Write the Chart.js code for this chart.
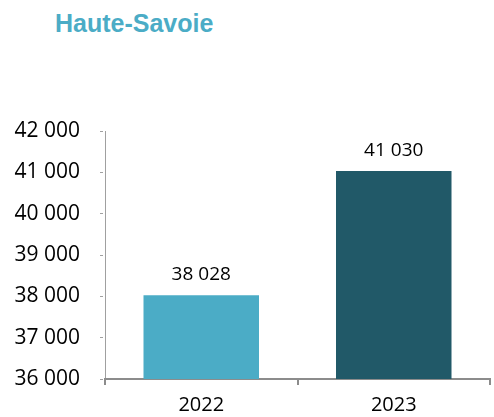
<!DOCTYPE html>
<html>
<head>
<meta charset="utf-8">
<script src="https://cdn.jsdelivr.net/npm/chart.js@4"></script>
<style>
html,body{margin:0;padding:0;background:#fff;}
#wrap{position:relative;width:494px;height:417px;}
#title{position:absolute;left:55px;top:11px;font-family:"Liberation Sans",Arial,sans-serif;font-weight:bold;font-size:25px;line-height:25px;color:#4BACC6;white-space:nowrap;}
canvas{position:absolute;left:0;top:0;}
</style>
</head>
<body>
<div id="wrap">
<div id="title">Haute-Savoie</div>
<canvas id="c" width="494" height="417"></canvas>
</div>
<script>
const categories = ["2022", "2023"];
const values = [38028, 41030];
const barColors = ["#4BACC6", "#215968"];
const yTicks = [36000, 37000, 38000, 39000, 40000, 41000, 42000];

function fmt(v){ return String(v).replace(/\B(?=(\d{3})+(?!\d))/g, " "); }

const labelPlugin = {
  id: 'valueLabels',
  afterDatasetsDraw(chart){
    const ctx = chart.ctx;
    const meta = chart.getDatasetMeta(0);
    ctx.save();
    ctx.font = '19px "Open Sans", sans-serif';
    ctx.fillStyle = '#000';
    ctx.textAlign = 'center';
    ctx.textBaseline = 'alphabetic';
    meta.data.forEach((bar, i) => {
      ctx.fillText(fmt(values[i]), bar.x, bar.y - 15);
    });
    ctx.restore();
  }
};

new Chart(document.getElementById('c'), {
  type: 'bar',
  data: {
    labels: categories,
    datasets: [{
      data: values,
      backgroundColor: barColors,
      borderWidth: 0,
      categoryPercentage: 0.6,
      barPercentage: 1
    }]
  },
  options: {
    responsive: false,
    animation: false,
    devicePixelRatio: 1,
    layout: { padding: { top: 131, right: 4, left: 0, bottom: 0 } },
    plugins: { legend: { display: false }, tooltip: { enabled: false }, title: { display: false } },
    scales: {
      y: {
        min: 36000, max: 42000,
        afterFit(s){ s.width = 105; },
        afterBuildTicks(s){ s.ticks = yTicks.map(v => ({ value: v })); },
        border: { display: true, color: '#A0A0A0', width: 1, dash: [3, 2] },
        grid: { drawOnChartArea: false, drawTicks: true, tickLength: 5, color: '#A0A0A0', tickBorderDash: [3, 2] },
        ticks: {
          padding: 20,
          color: '#000',
          font: { family: '"Open Sans", sans-serif', size: 21 },
          callback: (v) => fmt(v)
        }
      },
      x: {
        afterFit(s){ s.height = 38; },
        border: { display: true, color: '#8C8C8C', width: 2 },
        grid: { drawOnChartArea: false, drawTicks: true, tickLength: 6, color: '#8C8C8C', lineWidth: 2, offset: true },
        ticks: {
          padding: 8,
          color: '#000',
          font: { family: '"Open Sans", sans-serif', size: 20 }
        }
      }
    }
  },
  plugins: [labelPlugin]
});
</script>
</body>
</html>
